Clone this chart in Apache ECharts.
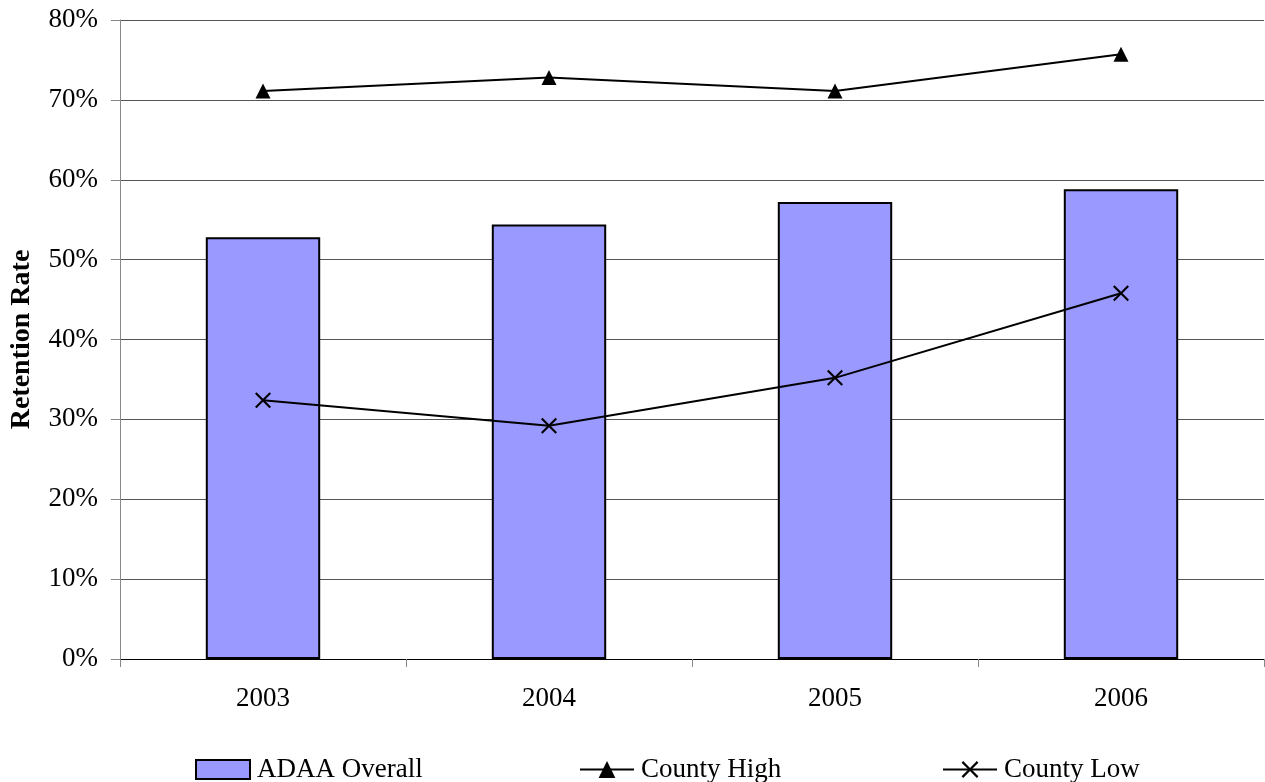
<!DOCTYPE html>
<html>
<head>
<meta charset="utf-8">
<script src="https://cdn.jsdelivr.net/npm/echarts@6/dist/echarts.min.js"></script>
<style>
  html, body { margin: 0; padding: 0; background: #fff; }
  #chart { width: 1265px; height: 782px; }
</style>
</head>
<body>
<div id="chart"></div>
<script>
// Retention rates by year (percent)
const years = ['2003', '2004', '2005', '2006'];
const adaaOverall = [52.8, 54.4, 57.2, 58.8];
const countyHigh = [71.1, 72.8, 71.1, 75.7];
const countyLow = [32.4, 29.2, 35.2, 45.8];
const yTicks = { min: 0, max: 80, interval: 10 };

const FONT = '"Liberation Serif", "Times New Roman", serif';
const crossPath = 'path://M1.5,0 L8,6.5 L14.5,0 L16,1.5 L9.5,8 L16,14.5 L14.5,16 L8,9.5 L1.5,16 L0,14.5 L6.5,8 L0,1.5 Z';

const chart = echarts.init(document.getElementById('chart'), null, { renderer: 'canvas' });

const legendText = { fontFamily: FONT, fontSize: 27, color: '#000', padding: [0, 0, 0, 2] };
const legendBase = { padding: 0, itemGap: 0, textStyle: legendText, itemWidth: 54 };

chart.setOption({
  animation: false,
  backgroundColor: '#fff',
  grid: { left: 120, right: 1, top: 20, bottom: 123, outerBoundsMode: 'none' },
  legend: [
    Object.assign({}, legendBase, {
      data: [{ name: 'ADAA Overall', icon: 'rect' }], left: 195, top: 756, itemHeight: 19,
      itemStyle: { borderWidth: 2, borderColor: '#000' }
    }),
    Object.assign({}, legendBase, { data: ['County High'], left: 579, top: 756, itemHeight: 21 }),
    Object.assign({}, legendBase, { data: ['County Low'], left: 942, top: 756, itemHeight: 21 })
  ],
  xAxis: {
    type: 'category',
    data: years,
    boundaryGap: true,
    axisLine: { lineStyle: { color: '#000', width: 1 } },
    axisTick: { show: true, length: 8, inside: false, lineStyle: { color: '#888' } },
    axisLabel: { fontFamily: FONT, fontSize: 27, color: '#000', margin: 26 }
  },
  yAxis: {
    type: 'value',
    min: yTicks.min,
    max: yTicks.max,
    interval: yTicks.interval,
    name: 'Retention Rate',
    nameLocation: 'middle',
    nameGap: 84,
    nameTextStyle: { fontFamily: FONT, fontSize: 28, fontWeight: 'bold', color: '#000' },
    axisLine: { show: true, lineStyle: { color: '#888', width: 1 } },
    axisTick: { show: true, length: 9, lineStyle: { color: '#888' } },
    axisLabel: { fontFamily: FONT, fontSize: 27, color: '#000', margin: 22, formatter: '{value}%' },
    splitLine: { show: true, lineStyle: { color: '#555', width: 1 } }
  },
  series: [
    {
      name: 'ADAA Overall',
      type: 'bar',
      data: adaaOverall,
      barWidth: '40%',
      itemStyle: { color: '#9999FF', borderColor: '#000', borderWidth: 2 }
    },
    {
      name: 'County High',
      type: 'line',
      data: countyHigh,
      symbol: 'triangle',
      symbolSize: 15,
      lineStyle: { color: '#000', width: 2 },
      itemStyle: { color: '#000' }
    },
    {
      name: 'County Low',
      type: 'line',
      data: countyLow,
      symbol: crossPath,
      symbolSize: 16,
      lineStyle: { color: '#000', width: 2 },
      itemStyle: { color: '#000' }
    }
  ]
});
</script>
</body>
</html>
